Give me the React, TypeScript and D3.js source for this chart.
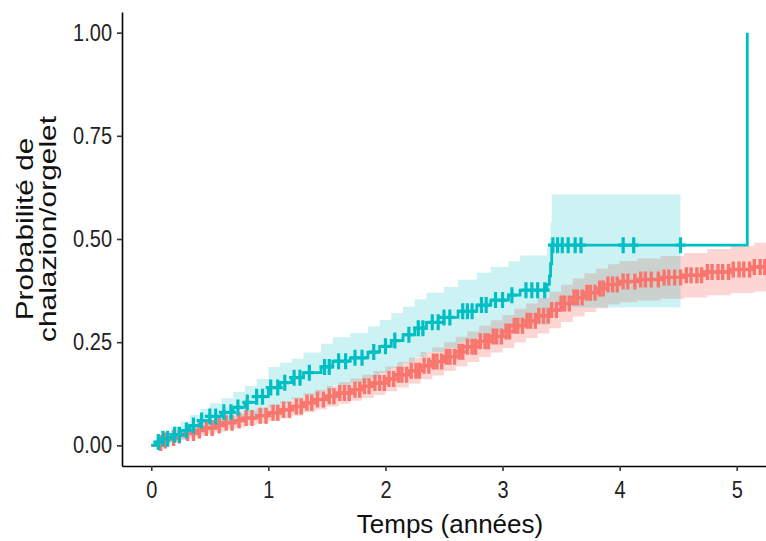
import { useEffect, useRef } from 'react';
import * as d3 from 'd3';

const W = 766;
const H = 541;
const margin = { top: 12, right: 0, bottom: 75, left: 122 };

const RED = '#F8766D';
const TEAL = '#00BFC4';

// group 1 (red): step times, cumulative incidence, 95% CI
const redTimes = [0, 0.05, 0.1, 0.15, 0.22, 0.3, 0.38, 0.46, 0.55, 0.63, 0.72, 0.8, 0.9, 1.0, 1.1, 1.2, 1.3, 1.4, 1.5, 1.6, 1.7, 1.8, 1.9, 2.0, 2.1, 2.2, 2.3, 2.4, 2.5, 2.6, 2.7, 2.8, 2.9, 3.0, 3.1, 3.2, 3.3, 3.4, 3.5, 3.6, 3.7, 3.8, 3.9, 4.0, 4.15, 4.35, 4.55, 4.75, 4.95, 5.15];
const redEst = [0, 0.006, 0.012, 0.018, 0.024, 0.03, 0.036, 0.042, 0.048, 0.055, 0.06, 0.066, 0.072, 0.079, 0.086, 0.094, 0.103, 0.111, 0.119, 0.127, 0.135, 0.143, 0.151, 0.161, 0.171, 0.181, 0.193, 0.203, 0.215, 0.227, 0.239, 0.252, 0.264, 0.276, 0.29, 0.302, 0.314, 0.328, 0.344, 0.358, 0.37, 0.38, 0.39, 0.397, 0.402, 0.407, 0.412, 0.42, 0.426, 0.432];
const redLower = [0, 0.001, 0.005, 0.009, 0.013, 0.018, 0.023, 0.028, 0.033, 0.039, 0.043, 0.048, 0.053, 0.059, 0.065, 0.072, 0.08, 0.087, 0.094, 0.101, 0.108, 0.115, 0.122, 0.131, 0.14, 0.149, 0.16, 0.169, 0.18, 0.191, 0.202, 0.214, 0.225, 0.236, 0.249, 0.26, 0.271, 0.284, 0.299, 0.312, 0.323, 0.332, 0.341, 0.347, 0.351, 0.355, 0.358, 0.364, 0.369, 0.373];
const redUpper = [0, 0.011, 0.019, 0.027, 0.035, 0.042, 0.049, 0.056, 0.063, 0.071, 0.077, 0.084, 0.091, 0.099, 0.107, 0.116, 0.126, 0.135, 0.144, 0.153, 0.162, 0.171, 0.18, 0.191, 0.202, 0.213, 0.226, 0.237, 0.25, 0.263, 0.276, 0.29, 0.303, 0.316, 0.331, 0.344, 0.357, 0.372, 0.389, 0.404, 0.417, 0.428, 0.439, 0.447, 0.453, 0.459, 0.466, 0.476, 0.483, 0.491];
const redEnd = 5.3;
const redCensor = [0.08, 0.12, 0.19, 0.24, 0.31, 0.36, 0.41, 0.47, 0.52, 0.58, 0.64, 0.69, 0.75, 0.81, 0.86, 0.93, 0.98, 1.04, 1.08, 1.13, 1.18, 1.24, 1.28, 1.33, 1.37, 1.42, 1.47, 1.52, 1.56, 1.61, 1.65, 1.69, 1.74, 1.78, 1.82, 1.86, 1.91, 1.95, 1.99, 2.03, 2.07, 2.11, 2.14, 2.18, 2.22, 2.26, 2.29, 2.33, 2.37, 2.41, 2.44, 2.48, 2.52, 2.55, 2.59, 2.63, 2.66, 2.7, 2.74, 2.77, 2.81, 2.85, 2.88, 2.92, 2.95, 2.99, 3.03, 3.06, 3.1, 3.13, 3.17, 3.21, 3.24, 3.28, 3.31, 3.35, 3.39, 3.42, 3.46, 3.5, 3.53, 3.57, 3.61, 3.64, 3.68, 3.72, 3.75, 3.79, 3.83, 3.86, 3.9, 3.94, 3.98, 4.03, 4.07, 4.13, 4.18, 4.22, 4.27, 4.33, 4.38, 4.42, 4.47, 4.52, 4.57, 4.61, 4.66, 4.7, 4.75, 4.79, 4.84, 4.88, 4.93, 4.97, 5.02, 5.06, 5.11, 5.15, 5.2, 5.24];

// group 2 (teal)
const tealTimes = [0, 0.04, 0.1, 0.17, 0.25, 0.33, 0.42, 0.5, 0.6, 0.7, 0.8, 0.9, 1.0, 1.1, 1.2, 1.3, 1.45, 1.55, 1.7, 1.85, 1.95, 2.05, 2.15, 2.25, 2.35, 2.5, 2.62, 2.78, 2.9, 3.05, 3.15, 3.38, 3.4, 3.41, 3.42, 5.09];
const tealEst = [0, 0.008, 0.016, 0.026, 0.036, 0.048, 0.06, 0.07, 0.08, 0.092, 0.104, 0.118, 0.14, 0.152, 0.164, 0.176, 0.19, 0.204, 0.212, 0.226, 0.24, 0.254, 0.268, 0.284, 0.298, 0.31, 0.325, 0.34, 0.352, 0.364, 0.376, 0.39, 0.41, 0.44, 0.485, 1.0];
const tealLower = [0, 0, 0.003, 0.008, 0.014, 0.022, 0.031, 0.038, 0.046, 0.055, 0.064, 0.075, 0.092, 0.102, 0.112, 0.121, 0.133, 0.145, 0.152, 0.164, 0.176, 0.188, 0.2, 0.214, 0.226, 0.236, 0.249, 0.262, 0.272, 0.282, 0.292, 0.302, 0.318, 0.34, 0.334];
const tealUpper = [0, 0.02, 0.031, 0.045, 0.058, 0.074, 0.089, 0.102, 0.114, 0.129, 0.144, 0.161, 0.19, 0.2, 0.21, 0.225, 0.246, 0.262, 0.272, 0.288, 0.304, 0.32, 0.336, 0.354, 0.37, 0.384, 0.401, 0.418, 0.432, 0.446, 0.46, 0.478, 0.502, 0.54, 0.608];
const tealRibbonEnd = 4.52;
const tealCensor = [0.06, 0.1, 0.14, 0.2, 0.24, 0.3, 0.36, 0.43, 0.5, 0.55, 0.62, 0.68, 0.74, 0.82, 0.9, 0.95, 1.02, 1.08, 1.14, 1.22, 1.27, 1.35, 1.48, 1.52, 1.6, 1.66, 1.74, 1.8, 1.9, 2.0, 2.08, 2.2, 2.28, 2.32, 2.4, 2.45, 2.5, 2.55, 2.66, 2.7, 2.74, 2.82, 2.86, 2.94, 3.0, 3.08, 3.2, 3.25, 3.3, 3.36, 3.43, 3.47, 3.51, 3.56, 3.62, 3.67, 4.03, 4.12, 4.52];

const xTicks = [0, 1, 2, 3, 4, 5];
const yTicks = [0, 0.25, 0.5, 0.75, 1];
const yTickLabels = ['0.00', '0.25', '0.50', '0.75', '1.00'];

const stepAt = (times: number[], vals: number[], t: number) => {
    const i = d3.bisectRight(times, t) - 1;
    return vals[Math.max(0, i)];
};

const FONT = '"Liberation Sans", Arial, sans-serif';

const App = () => {
    const xAxisRef = useRef<SVGGElement>(null);
    const yAxisRef = useRef<SVGGElement>(null);

    const plotW = W - margin.left - margin.right;
    const plotH = H - margin.top - margin.bottom;

    const x = d3.scaleLinear().domain([-0.25, 5.25]).range([margin.left, margin.left + plotW]);
    const y = d3.scaleLinear().domain([-0.05, 1.05]).range([margin.top + plotH, margin.top]);

    useEffect(() => {
        const xa = d3.select(xAxisRef.current);
        xa.selectAll('*').remove();
        xa.call(d3.axisBottom(x).tickValues(xTicks).tickFormat(d3.format('d')).tickSize(5).tickPadding(8).tickSizeOuter(0));
        xa.select('.domain').attr('stroke', '#000').attr('stroke-width', 1.6);
        xa.selectAll('.tick line').attr('stroke', '#333').attr('stroke-width', 1.6);
        xa.selectAll('.tick text').attr('font-size', 20).attr('fill', '#222').attr('font-family', FONT)
            .attr('transform', 'scale(1,1.18)');

        const ya = d3.select(yAxisRef.current);
        ya.selectAll('*').remove();
        ya.call(d3.axisLeft(y).tickValues(yTicks).tickFormat((d, i) => yTickLabels[i]).tickSize(5).tickPadding(5).tickSizeOuter(0));
        ya.select('.domain').attr('stroke', '#000').attr('stroke-width', 1.6);
        ya.selectAll('.tick line').attr('stroke', '#333').attr('stroke-width', 1.6);
        ya.selectAll('.tick text').attr('font-size', 20).attr('fill', '#222').attr('font-family', FONT)
            .attr('transform', 'scale(1,1.18)');
    }, []);

    const pts = (times: number[], vals: number[], end?: number) => {
        const p = times.map((t, i) => [t, vals[i]] as [number, number]);
        if (end !== undefined) p.push([end, vals[vals.length - 1]]);
        return p;
    };

    const line = d3.line<[number, number]>()
        .x(d => x(d[0]))
        .y(d => y(d[1]))
        .curve(d3.curveStepAfter);

    const band = (times: number[], lo: number[], hi: number[], end: number) => {
        const data = times.slice(0, lo.length).map((t, i) => ({ t, lo: lo[i], hi: hi[i] }));
        data.push({ t: end, lo: lo[lo.length - 1], hi: hi[hi.length - 1] });
        return d3.area<{ t: number, lo: number, hi: number }>()
            .x(d => x(d.t))
            .y0(d => y(d.lo))
            .y1(d => y(d.hi))
            .curve(d3.curveStepAfter)(data);
    };

    const plus = (t: number, v: number) => {
        const cx = x(t), cy = y(v);
        return `M${cx - 5},${cy}H${cx + 5}M${cx},${cy - 8}V${cy + 8}`;
    };

    const redMarks = redCensor.map(t => plus(t, stepAt(redTimes, redEst, t))).join('');
    const tealMarks = tealCensor.map(t => plus(t, stepAt(tealTimes, tealEst, t))).join('');

    return (
        <svg width={W} height={H} style={{ position: 'absolute', left: 0, top: 0, background: '#fff' }}>
            <defs>
                <clipPath id="panel">
                    <rect x={margin.left} y={0} width={plotW} height={margin.top + plotH} />
                </clipPath>
            </defs>
            <g clipPath="url(#panel)">
                <path d={band(redTimes, redLower, redUpper, redEnd) || ''} fill={RED} fillOpacity={0.3} />
                <path d={band(tealTimes, tealLower, tealUpper, tealRibbonEnd) || ''} fill={TEAL} fillOpacity={0.2} />
                <path d={line(pts(redTimes, redEst, redEnd)) || ''} fill="none" stroke={RED} strokeWidth={3} />
                <path d={redMarks} fill="none" stroke={RED} strokeWidth={3.4} />
                <path d={line(pts(tealTimes, tealEst)) || ''} fill="none" stroke={TEAL} strokeWidth={2.8} />
                <path d={tealMarks} fill="none" stroke={TEAL} strokeWidth={3.2} />
            </g>
            <g ref={xAxisRef} transform={`translate(0,${margin.top + plotH})`} />
            <g ref={yAxisRef} transform={`translate(${margin.left},0)`} />
            <text x={450} y={533} textAnchor="middle" fontFamily={FONT} fontSize={26} fill="#111">Temps (années)</text>
            <g transform={`translate(0,229) rotate(-90) scale(1.3,1)`}>
                <text x={0} y={33} textAnchor="middle" fontFamily={FONT} fontSize={23} fill="#111">Probabilité de</text>
                <text x={0} y={56} textAnchor="middle" fontFamily={FONT} fontSize={23} fill="#111">chalazion/orgelet</text>
            </g>
        </svg>
    );
};

export default App;
